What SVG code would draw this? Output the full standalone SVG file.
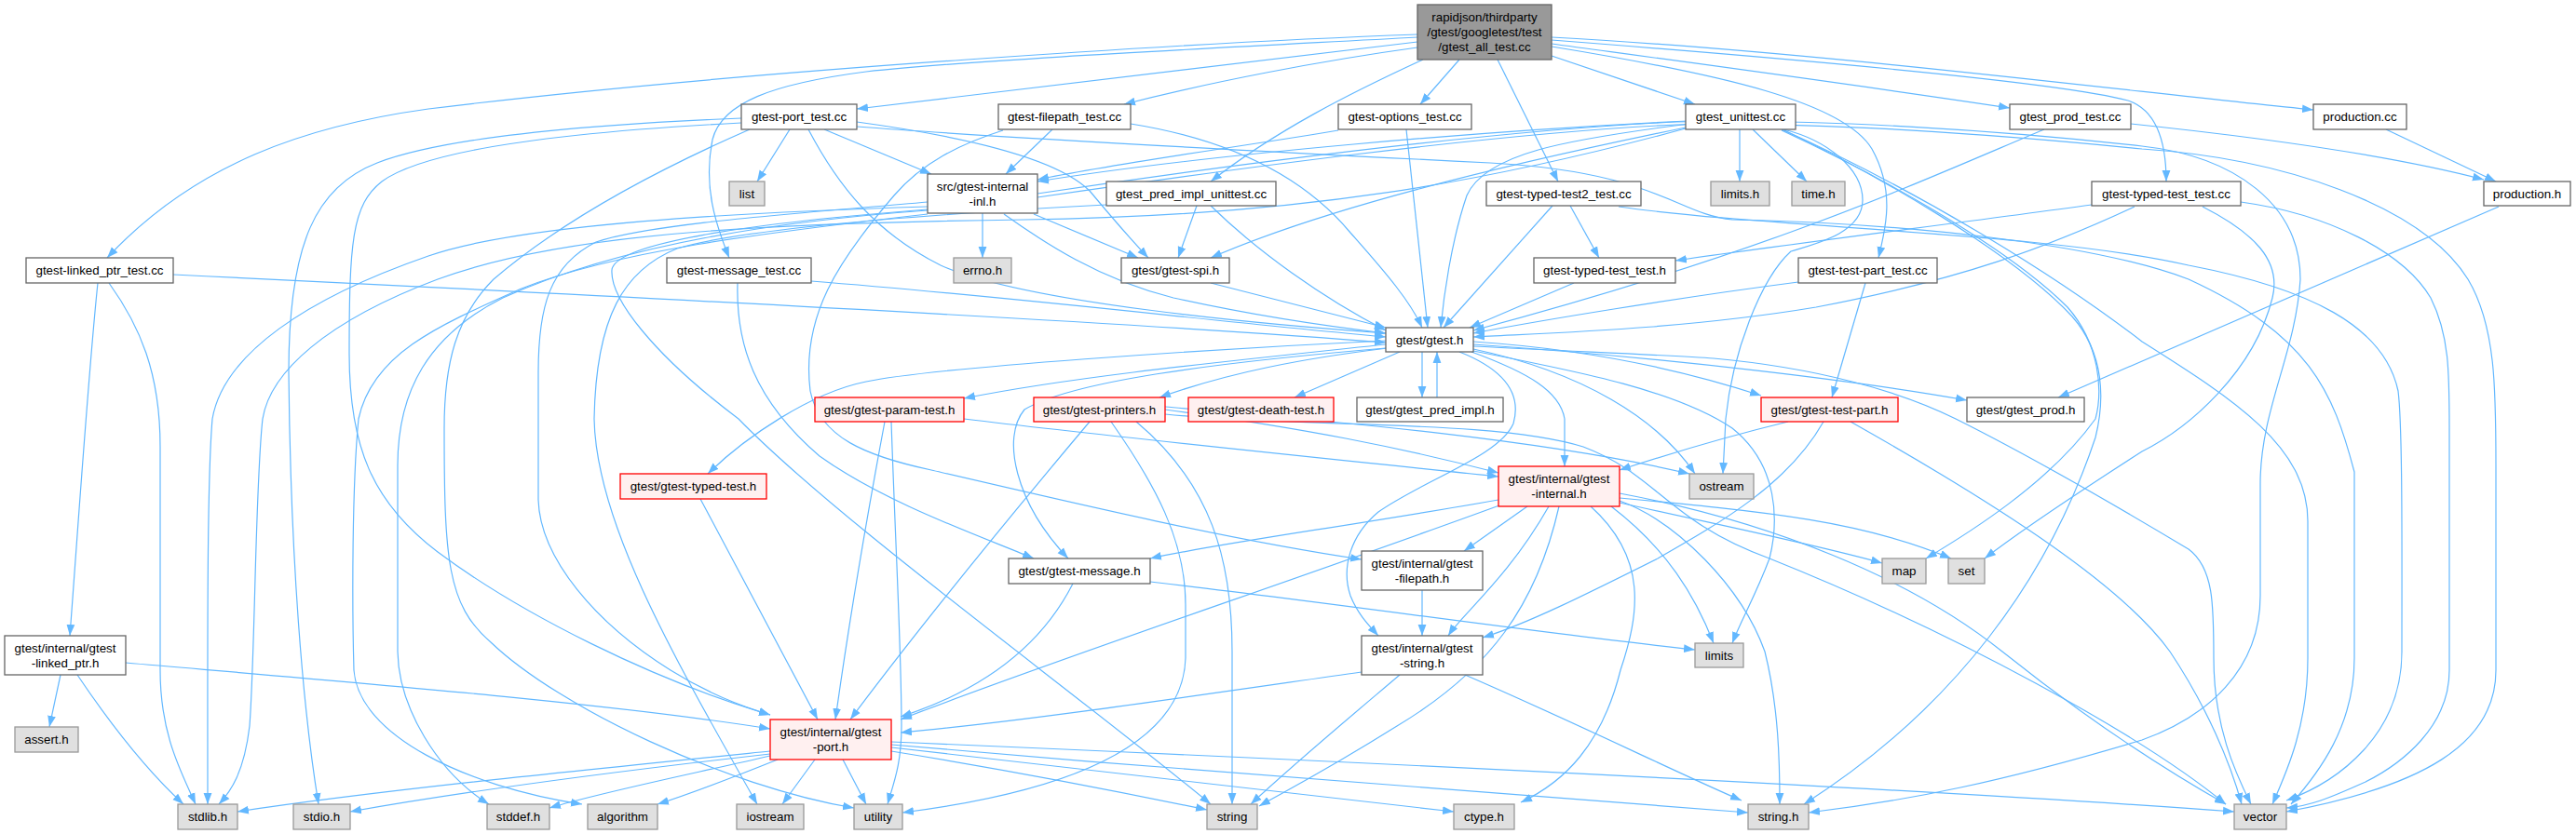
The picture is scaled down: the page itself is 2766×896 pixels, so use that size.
<svg xmlns="http://www.w3.org/2000/svg" width="2766" height="896" viewBox="0 0 2766 896">
<defs>
<marker id="ah" viewBox="0 0 12 10" markerWidth="12" markerHeight="10" refX="12" refY="5" orient="auto" markerUnits="userSpaceOnUse"><path d="M0,0.6 L12,5 L0,9.4 z" fill="#63b8ff"/></marker>
</defs>
<style>
.e{fill:none;stroke:#63b8ff;stroke-width:1.2;marker-end:url(#ah)}
.w{fill:#ffffff;stroke:#666666;stroke-width:1.3}
.s{fill:#e0e0e0;stroke:#999999;stroke-width:1.3}
.r{fill:#fff0f0;stroke:#ff0000;stroke-width:1.3}
.rt{fill:#999999;stroke:#666666;stroke-width:1.3}
text{font-family:"Liberation Sans",Arial,sans-serif;font-size:13.33px;fill:#000000;text-anchor:middle}
</style>
<rect width="2766" height="896" fill="#ffffff"/>
<g id="edges">
<path class="e" d="M1522,37 C1300,45 800,75 460,117 C330,135 210,175 115,277"/>
<path class="e" d="M1522,40 C1300,52 1050,64 930,77 C830,90 775,110 765,150 C755,200 768,240 783,277"/>
<path class="e" d="M1522,45 C1300,72 1100,95 920,117"/>
<path class="e" d="M1522,51 C1420,65 1300,88 1207,112"/>
<path class="e" d="M1528,64 C1450,100 1370,140 1300,195"/>
<path class="e" d="M1567,64 L1525,112"/>
<path class="e" d="M1608,64 L1673,195"/>
<path class="e" d="M1666,60 L1820,112"/>
<path class="e" d="M1666,40 C1950,55 2300,100 2484,118"/>
<path class="e" d="M1666,43 C1950,65 2220,90 2285,108 C2315,118 2326,150 2326,195"/>
<path class="e" d="M1666,47 C1850,72 2000,92 2158,116"/>
<path class="e" d="M1666,50 C1850,80 1980,110 2010,160 C2035,205 2025,245 2017,277"/>
<path class="e" d="M848,139 L813,195"/>
<path class="e" d="M885,139 L1000,187"/>
<path class="e" d="M920,131 C1060,150 1140,175 1170,205 C1195,235 1215,258 1233,277"/>
<path class="e" d="M868,139 C900,200 940,250 1010,285 C1100,325 1350,348 1488,358"/>
<path class="e" d="M796,127 C600,135 470,150 405,175 C340,200 310,260 310,400 C312,600 325,760 342,864"/>
<path class="e" d="M796,132 C600,142 455,162 410,195 C378,220 375,260 375,380 C375,480 400,540 470,593 C560,660 700,730 827,768"/>
<path class="e" d="M805,139 C700,185 600,240 530,300 C490,340 477,390 477,460 C477,600 480,650 527,690 C600,760 780,845 917,868"/>
<path class="e" d="M920,136 C1100,150 1400,165 1600,175 C1780,185 1800,230 1860,236 C2050,240 2250,262 2350,300 C2480,360 2505,420 2528,507 L2528,707 C2528,780 2490,830 2460,864"/>
<path class="e" d="M1130,139 L1080,187"/>
<path class="e" d="M1214,133 C1320,150 1400,190 1450,250 C1490,295 1515,325 1527,352"/>
<path class="e" d="M1077,140 C1030,155 990,175 960,210 C900,280 860,340 870,420 C880,470 930,490 1000,505 C1150,540 1320,580 1462,601"/>
<path class="e" d="M1510,139 L1533,352"/>
<path class="e" d="M1437,140 C1350,155 1200,175 1114,193"/>
<path class="e" d="M1814,133 C1680,150 1595,165 1575,210 C1558,260 1550,320 1547,352"/>
<path class="e" d="M1868,139 L1868,195"/>
<path class="e" d="M1882,139 L1940,195"/>
<path class="e" d="M1812,130 C1600,140 1300,165 1114,195"/>
<path class="e" d="M1810,137 C1600,180 1420,225 1300,277"/>
<path class="e" d="M1810,138 C1600,195 1400,232 1100,236 C800,240 600,252 470,300 C350,345 290,400 282,450 C274,520 274,700 268,780 C262,830 248,850 235,864"/>
<path class="e" d="M1915,139 C1960,150 2000,180 2000,215 C2000,250 1950,262 1923,270 C1890,300 1860,380 1853,450 L1850,509"/>
<path class="e" d="M1913,140 C2000,180 2150,260 2220,330 C2255,370 2258,420 2250,450 C2200,520 2110,575 2068,600"/>
<path class="e" d="M1916,140 C2010,185 2160,270 2225,340 C2260,380 2260,430 2250,470 C2200,620 2100,760 1937,864"/>
<path class="e" d="M1913,139 C2050,200 2200,290 2300,367 C2400,430 2478,480 2478,560 L2478,707 C2478,780 2455,830 2440,864"/>
<path class="e" d="M2195,139 C2050,200 1900,270 1582,355"/>
<path class="e" d="M2288,133 C2450,150 2580,170 2667,193"/>
<path class="e" d="M2562,139 L2680,195"/>
<path class="e" d="M2246,220 C2100,240 1900,265 1799,280"/>
<path class="e" d="M2292,222 C2200,265 2107,300 1950,330 C1800,355 1650,358 1582,362"/>
<path class="e" d="M2365,222 C2420,250 2450,280 2440,320 C2420,400 2350,460 2300,485 C2230,530 2170,570 2131,600"/>
<path class="e" d="M2406,217 C2500,230 2580,270 2610,320 C2630,360 2630,400 2630,460 L2630,720 C2630,780 2580,820 2540,840 C2500,858 2480,866 2455,868"/>
<path class="e" d="M1686,221 L1717,277"/>
<path class="e" d="M1667,221 L1550,352"/>
<path class="e" d="M1738,222 C1900,245 2200,250 2350,285 C2480,310 2560,350 2575,420 C2580,460 2579,600 2579,700 C2579,790 2510,840 2455,860"/>
<path class="e" d="M1285,221 L1265,277"/>
<path class="e" d="M1300,221 C1350,270 1420,320 1488,355"/>
<path class="e" d="M1188,220 C1000,230 800,245 727,267 C670,290 640,340 638,450 C640,560 720,700 813,864"/>
<path class="e" d="M871,302 C1100,320 1300,345 1488,362"/>
<path class="e" d="M792,304 C790,370 810,430 880,490 C950,540 1050,575 1110,600"/>
<path class="e" d="M105,304 C95,400 85,550 75,683"/>
<path class="e" d="M117,304 C150,350 172,400 172,480 L172,720 C172,790 195,830 210,864"/>
<path class="e" d="M186,295 C600,315 1200,345 1488,368"/>
<path class="e" d="M1055,229 L1055,277"/>
<path class="e" d="M1110,230 L1222,277"/>
<path class="e" d="M1078,230 C1120,260 1180,300 1260,320 C1350,340 1420,350 1488,358"/>
<path class="e" d="M996,217 C850,230 700,240 640,260 C590,285 578,330 578,400 L578,537 C580,600 640,670 720,720 C760,745 800,760 827,768"/>
<path class="e" d="M996,222 C800,228 560,240 460,275 C330,320 240,380 228,450 C222,520 223,700 223,864"/>
<path class="e" d="M996,226 C800,240 650,270 540,320 C460,360 427,420 427,500 L427,700 C428,760 470,830 525,864"/>
<path class="e" d="M996,230 C820,250 660,270 560,310 C470,350 400,380 385,450 C378,520 378,650 380,720 C385,790 500,845 625,864"/>
<path class="e" d="M996,225 C800,240 660,262 657,290 C655,320 700,380 793,450 C900,560 1150,740 1300,864"/>
<path class="e" d="M1114,208 C1300,180 1600,140 1800,131 C1950,127 2150,140 2300,157 C2400,168 2470,220 2470,300 C2465,380 2427,440 2427,520 L2427,640 C2427,720 2370,770 2300,795 C2150,840 2050,860 1942,873"/>
<path class="e" d="M1114,212 C1300,185 1600,143 1800,134 C1950,130 2150,145 2300,160 C2450,170 2600,220 2650,300 C2680,350 2680,420 2680,500 L2680,720 C2680,800 2600,845 2455,872"/>
<path class="e" d="M1300,304 C1380,325 1440,340 1488,352"/>
<path class="e" d="M1690,304 L1578,352"/>
<path class="e" d="M2683,222 L2210,427"/>
<path class="e" d="M1543,427 L1543,378"/>
<path class="e" d="M1488,370 C1300,390 1150,405 1035,428"/>
<path class="e" d="M1490,374 C1400,385 1320,400 1245,427"/>
<path class="e" d="M1503,378 L1390,427"/>
<path class="e" d="M1527,378 L1527,427"/>
<path class="e" d="M1582,367 C1700,375 1800,395 1891,425"/>
<path class="e" d="M1582,370 C1800,385 2000,410 2112,430"/>
<path class="e" d="M1488,366 C1300,375 1000,395 930,410 C870,422 800,470 760,509"/>
<path class="e" d="M1488,374 C1300,390 1150,410 1100,440 C1075,470 1090,540 1147,600"/>
<path class="e" d="M1567,378 C1610,395 1635,420 1625,455 C1610,490 1530,515 1480,550 C1450,575 1440,610 1450,640 C1458,660 1470,672 1480,683"/>
<path class="e" d="M1580,378 C1640,400 1675,420 1680,450 L1680,501"/>
<path class="e" d="M1582,375 C1700,400 1780,450 1820,509"/>
<path class="e" d="M1582,377 C1700,400 1800,420 1860,460 C1910,500 1910,560 1900,600 C1885,640 1870,665 1860,691"/>
<path class="e" d="M1582,372 C1700,378 1800,382 1840,385 C1950,395 2040,420 2100,450 C2200,500 2300,560 2350,590 C2377,610 2377,650 2377,707 C2377,780 2400,830 2417,864"/>
<path class="e" d="M957,453 C962,600 968,700 968,780 C968,820 960,840 953,864"/>
<path class="e" d="M950,453 C930,560 910,680 897,773"/>
<path class="e" d="M1035,450 C1200,470 1400,490 1609,512"/>
<path class="e" d="M1170,453 C1080,560 990,670 913,773"/>
<path class="e" d="M1251,440 C1400,460 1500,480 1609,508"/>
<path class="e" d="M1251,437 C1400,450 1650,470 1814,509"/>
<path class="e" d="M1220,453 C1300,520 1323,600 1323,700 L1323,864"/>
<path class="e" d="M1193,453 C1240,520 1273,580 1273,650 L1273,707 C1270,800 1150,850 969,873"/>
<path class="e" d="M1251,445 C1400,460 1600,450 1700,480 C1780,510 1790,560 1900,600 C2100,680 2300,790 2390,864"/>
<path class="e" d="M1920,453 C1850,470 1800,485 1739,505"/>
<path class="e" d="M1958,453 C1920,520 1850,560 1780,600 C1700,640 1640,670 1592,685"/>
<path class="e" d="M1987,453 C2150,545 2280,630 2330,700 C2370,760 2395,820 2407,864"/>
<path class="e" d="M752,536 L878,773"/>
<path class="e" d="M1235,625 C1450,650 1650,680 1820,698"/>
<path class="e" d="M1152,627 C1120,690 1060,740 967,770"/>
<path class="e" d="M1610,543 C1400,620 1100,720 967,773"/>
<path class="e" d="M1609,537 C1450,565 1300,585 1235,600"/>
<path class="e" d="M1640,544 L1572,592"/>
<path class="e" d="M1663,544 C1620,620 1570,660 1555,683"/>
<path class="e" d="M1730,544 C1790,590 1820,640 1840,691"/>
<path class="e" d="M1739,540 C1850,565 1950,585 2021,605"/>
<path class="e" d="M1739,535 C1900,550 2000,560 2095,600"/>
<path class="e" d="M1739,530 C1900,560 2050,620 2150,700 C2250,780 2330,830 2390,864"/>
<path class="e" d="M1674,544 C1650,650 1600,720 1500,780 C1420,830 1380,850 1352,866"/>
<path class="e" d="M1739,538 C1800,560 1870,630 1895,700 C1910,760 1911,820 1911,864"/>
<path class="e" d="M1708,544 C1770,600 1760,660 1740,720 C1720,800 1680,840 1633,862"/>
<path class="e" d="M1527,634 L1527,683"/>
<path class="e" d="M1462,722 C1300,745 1100,775 967,787"/>
<path class="e" d="M1503,725 C1450,770 1390,820 1343,864"/>
<path class="e" d="M1573,725 C1700,780 1800,830 1870,860"/>
<path class="e" d="M65,725 L53,781"/>
<path class="e" d="M83,725 C120,780 160,830 197,864"/>
<path class="e" d="M135,712 C400,735 650,755 827,783"/>
<path class="e" d="M827,807 C600,830 400,850 255,872"/>
<path class="e" d="M827,810 C650,830 500,850 376,872"/>
<path class="e" d="M827,812 C750,830 650,850 590,868"/>
<path class="e" d="M835,816 C800,830 750,850 706,864"/>
<path class="e" d="M875,816 L840,864"/>
<path class="e" d="M905,816 L930,864"/>
<path class="e" d="M957,807 C1100,830 1200,850 1296,870"/>
<path class="e" d="M957,803 C1200,830 1400,855 1561,872"/>
<path class="e" d="M957,800 C1300,830 1700,860 1877,873"/>
<path class="e" d="M957,797 C1500,820 2100,850 2399,872"/>
<path class="e" d="M2003,304 L1967,427"/>
<path class="e" d="M1931,303 C1800,320 1650,345 1582,358"/>
</g>
<g id="n_root"><rect class="rt" x="1522" y="5" width="144" height="59"/><text x="1594" y="23">rapidjson/thirdparty</text><text x="1594" y="39">/gtest/googletest/test</text><text x="1594" y="55">/gtest_all_test.cc</text></g>
<g id="n_port_test"><rect class="w" x="796" y="112" width="124" height="27"/><text x="858" y="130">gtest-port_test.cc</text></g>
<g id="n_filepath_test"><rect class="w" x="1072" y="112" width="142" height="27"/><text x="1143" y="130">gtest-filepath_test.cc</text></g>
<g id="n_options_test"><rect class="w" x="1437" y="112" width="143" height="27"/><text x="1508.5" y="130">gtest-options_test.cc</text></g>
<g id="n_unittest"><rect class="w" x="1810" y="112" width="118" height="27"/><text x="1869" y="130">gtest_unittest.cc</text></g>
<g id="n_prod_test"><rect class="w" x="2158" y="112" width="130" height="27"/><text x="2223" y="130">gtest_prod_test.cc</text></g>
<g id="n_production_cc"><rect class="w" x="2484" y="112" width="100" height="27"/><text x="2534" y="130">production.cc</text></g>
<g id="n_list"><rect class="s" x="783" y="195" width="38" height="26"/><text x="802" y="213">list</text></g>
<g id="n_inl"><rect class="w" x="996" y="187" width="118" height="42"/><text x="1055" y="204.7">src/gtest-internal</text><text x="1055" y="220.7">-inl.h</text></g>
<g id="n_pred_unittest"><rect class="w" x="1188" y="195" width="182" height="26"/><text x="1279" y="213">gtest_pred_impl_unittest.cc</text></g>
<g id="n_typed2"><rect class="w" x="1596" y="195" width="166" height="26"/><text x="1679" y="213">gtest-typed-test2_test.cc</text></g>
<g id="n_limits_h"><rect class="s" x="1837" y="195" width="63" height="26"/><text x="1868.5" y="213">limits.h</text></g>
<g id="n_time_h"><rect class="s" x="1924" y="195" width="57" height="26"/><text x="1952.5" y="213">time.h</text></g>
<g id="n_typed_cc"><rect class="w" x="2246" y="195" width="160" height="26"/><text x="2326" y="213">gtest-typed-test_test.cc</text></g>
<g id="n_production_h"><rect class="w" x="2667" y="195" width="93" height="26"/><text x="2713.5" y="213">production.h</text></g>
<g id="n_linked_test"><rect class="w" x="28" y="277" width="158" height="27"/><text x="107" y="295">gtest-linked_ptr_test.cc</text></g>
<g id="n_message_test"><rect class="w" x="716" y="277" width="155" height="27"/><text x="793.5" y="295">gtest-message_test.cc</text></g>
<g id="n_errno"><rect class="s" x="1024" y="277" width="62" height="27"/><text x="1055" y="295">errno.h</text></g>
<g id="n_spi"><rect class="w" x="1204" y="277" width="116" height="27"/><text x="1262" y="295">gtest/gtest-spi.h</text></g>
<g id="n_typed_h"><rect class="w" x="1647" y="277" width="152" height="27"/><text x="1723" y="295">gtest-typed-test_test.h</text></g>
<g id="n_testpart_test"><rect class="w" x="1931" y="277" width="149" height="27"/><text x="2005.5" y="295">gtest-test-part_test.cc</text></g>
<g id="n_gtest_h"><rect class="w" x="1488" y="352" width="94" height="26"/><text x="1535" y="370">gtest/gtest.h</text></g>
<g id="n_param"><rect class="r" x="875" y="427" width="160" height="26"/><text x="955" y="445">gtest/gtest-param-test.h</text></g>
<g id="n_printers"><rect class="r" x="1110" y="427" width="141" height="26"/><text x="1180.5" y="445">gtest/gtest-printers.h</text></g>
<g id="n_death"><rect class="r" x="1276" y="427" width="156" height="26"/><text x="1354" y="445">gtest/gtest-death-test.h</text></g>
<g id="n_pred_impl"><rect class="w" x="1457" y="427" width="157" height="26"/><text x="1535.5" y="445">gtest/gtest_pred_impl.h</text></g>
<g id="n_testpart_h"><rect class="r" x="1891" y="427" width="147" height="26"/><text x="1964.5" y="445">gtest/gtest-test-part.h</text></g>
<g id="n_prod_h"><rect class="w" x="2112" y="427" width="126" height="26"/><text x="2175" y="445">gtest/gtest_prod.h</text></g>
<g id="n_typed_test_h"><rect class="r" x="666" y="509" width="157" height="27"/><text x="744.5" y="527">gtest/gtest-typed-test.h</text></g>
<g id="n_internal_h"><rect class="r" x="1609" y="501" width="130" height="43"/><text x="1674" y="519">gtest/internal/gtest</text><text x="1674" y="535">-internal.h</text></g>
<g id="n_ostream"><rect class="s" x="1814" y="509" width="69" height="27"/><text x="1848.5" y="527">ostream</text></g>
<g id="n_message_h"><rect class="w" x="1083" y="600" width="152" height="27"/><text x="1159" y="618">gtest/gtest-message.h</text></g>
<g id="n_filepath_h"><rect class="w" x="1462" y="592" width="130" height="42"/><text x="1527" y="609.7">gtest/internal/gtest</text><text x="1527" y="625.7">-filepath.h</text></g>
<g id="n_map"><rect class="s" x="2021" y="600" width="47" height="27"/><text x="2044.5" y="618">map</text></g>
<g id="n_set"><rect class="s" x="2092" y="600" width="39" height="27"/><text x="2111.5" y="618">set</text></g>
<g id="n_linked_h"><rect class="w" x="5" y="683" width="130" height="42"/><text x="70" y="700.7">gtest/internal/gtest</text><text x="70" y="716.7">-linked_ptr.h</text></g>
<g id="n_string_h_int"><rect class="w" x="1462" y="683" width="130" height="42"/><text x="1527" y="700.7">gtest/internal/gtest</text><text x="1527" y="716.7">-string.h</text></g>
<g id="n_limits"><rect class="s" x="1820" y="691" width="52" height="26"/><text x="1846" y="709">limits</text></g>
<g id="n_assert"><rect class="s" x="16" y="781" width="68" height="27"/><text x="50" y="799">assert.h</text></g>
<g id="n_port_h"><rect class="r" x="827" y="773" width="130" height="43"/><text x="892" y="791">gtest/internal/gtest</text><text x="892" y="807">-port.h</text></g>
<g id="n_stdlib"><rect class="s" x="191" y="864" width="64" height="27"/><text x="223" y="882">stdlib.h</text></g>
<g id="n_stdio"><rect class="s" x="315" y="864" width="61" height="27"/><text x="345.5" y="882">stdio.h</text></g>
<g id="n_stddef"><rect class="s" x="523" y="864" width="67" height="27"/><text x="556.5" y="882">stddef.h</text></g>
<g id="n_algorithm"><rect class="s" x="631" y="864" width="75" height="27"/><text x="668.5" y="882">algorithm</text></g>
<g id="n_iostream"><rect class="s" x="791" y="864" width="72" height="27"/><text x="827" y="882">iostream</text></g>
<g id="n_utility"><rect class="s" x="917" y="864" width="52" height="27"/><text x="943" y="882">utility</text></g>
<g id="n_string"><rect class="s" x="1296" y="864" width="54" height="27"/><text x="1323" y="882">string</text></g>
<g id="n_ctype"><rect class="s" x="1561" y="864" width="65" height="27"/><text x="1593.5" y="882">ctype.h</text></g>
<g id="n_stringh"><rect class="s" x="1877" y="864" width="65" height="27"/><text x="1909.5" y="882">string.h</text></g>
<g id="n_vector"><rect class="s" x="2399" y="864" width="56" height="27"/><text x="2427" y="882">vector</text></g>
</svg>
